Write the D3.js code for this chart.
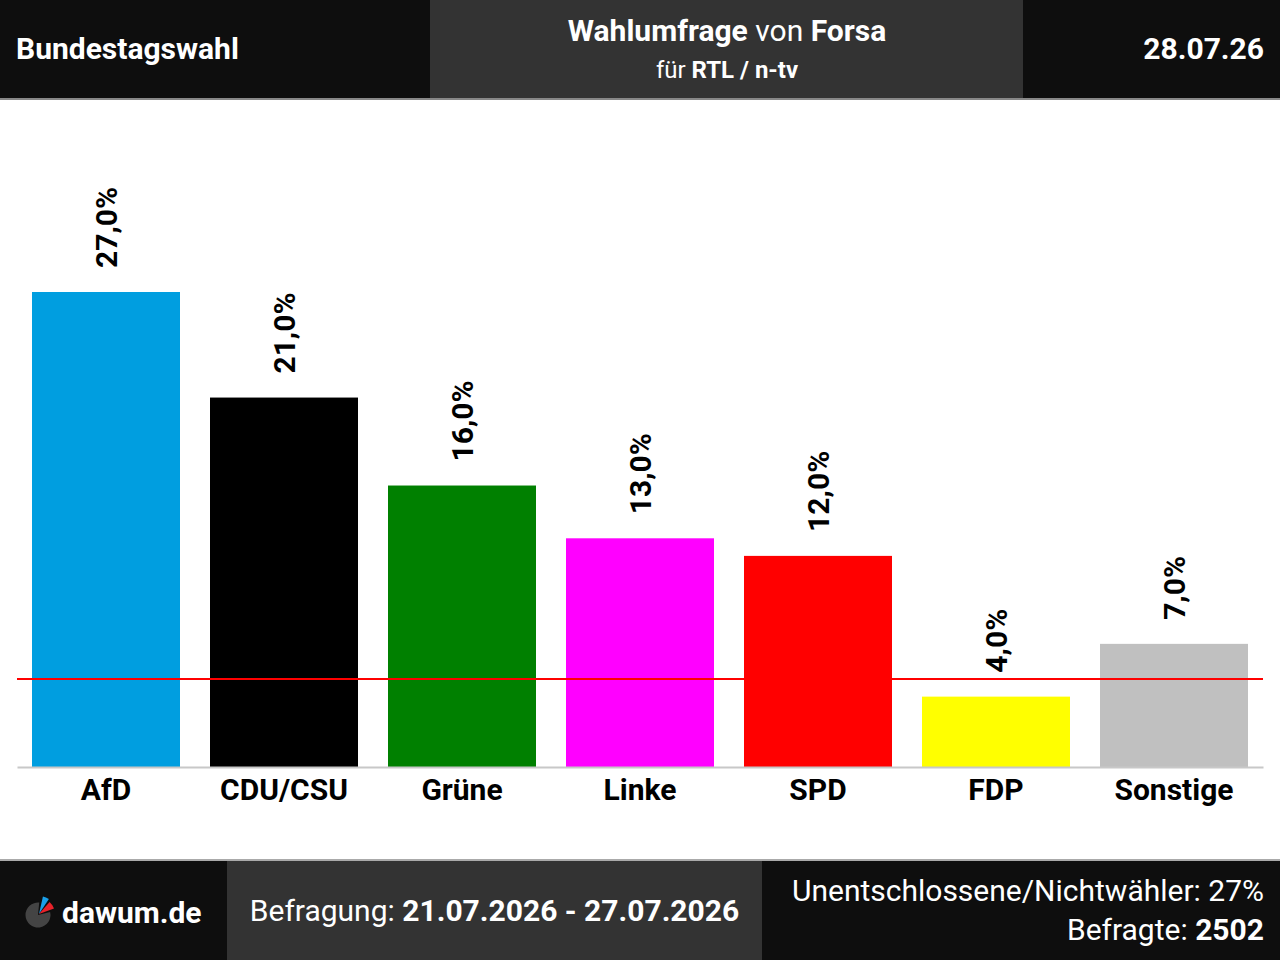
<!DOCTYPE html>
<html><head><meta charset="utf-8">
<script src="https://cdn.jsdelivr.net/npm/d3@7"></script>
<style>body{margin:0;background:#fff;}svg{display:block;font-family:Roboto,"Noto Sans",sans-serif;}</style>
</head><body>
<script>
const parties = ["AfD","CDU/CSU","Grüne","Linke","SPD","FDP","Sonstige"];
const values = [27.0,21.0,16.0,13.0,12.0,4.0,7.0];
const colors = ["#009ee0","#000000","#008000","#ff00ff","#ff0000","#ffff00","#c0c0c0"];
const threshold = 5;
const headerLeft = "Bundestagswahl";
const headerDate = "28.07.26";
const institute = "Forsa";
const client = "RTL / n-tv";
const fieldStart = "21.07.2026", fieldEnd = "27.07.2026";
const undecided = 27;
const respondents = 2502;

const W=1280,H=960;
const svg=d3.select("body").append("svg").attr("width",W).attr("height",H);

// header
svg.append("rect").attr("x",0).attr("y",0).attr("width",W).attr("height",98).attr("fill","#0e0e0e");
svg.append("rect").attr("x",430).attr("y",0).attr("width",593).attr("height",98).attr("fill","#333333");
svg.append("rect").attr("x",0).attr("y",98).attr("width",W).attr("height",2).attr("fill","#888888");
svg.append("text").attr("x",16).attr("y",59).attr("fill","#fff").attr("font-size",30).attr("font-weight","bold").text(headerLeft);
svg.append("text").attr("x",1264).attr("y",59).attr("text-anchor","end").attr("fill","#fff").attr("font-size",30).attr("font-weight","bold").text(headerDate);
const t1=svg.append("text").attr("x",727).attr("y",41).attr("text-anchor","middle").attr("fill","#fff").attr("font-size",30);
t1.append("tspan").attr("font-weight","bold").text("Wahlumfrage");
t1.append("tspan").text(" von ");
t1.append("tspan").attr("font-weight","bold").text(institute);
const t2=svg.append("text").attr("x",727).attr("y",78).attr("text-anchor","middle").attr("fill","#fff").attr("font-size",24);
t2.append("tspan").text("für ");
t2.append("tspan").attr("font-weight","bold").text(client);

// chart
const x=d3.scaleBand().domain(parties).range([17,1263]).paddingInner(30/178).paddingOuter(15/178);
const y=d3.scaleLinear().domain([0,27]).range([767,292]);
const g=svg.append("g");
g.selectAll("rect.bar").data(parties).enter().append("rect").attr("class","bar")
 .attr("x",d=>x(d)).attr("width",x.bandwidth())
 .attr("y",(d,i)=>y(values[i])).attr("height",(d,i)=>y(0)-y(values[i]))
 .attr("fill",(d,i)=>colors[i]);
g.selectAll("text.val").data(parties).enter().append("text").attr("class","val")
 .attr("transform",(d,i)=>`translate(${x(d)+x.bandwidth()/2+11},${y(values[i])-24}) rotate(-90)`)
 .attr("font-size",30).attr("font-weight","bold").attr("fill","#000")
 .text((d,i)=>values[i].toFixed(1).replace(".",",")+"%");
// axis
const axis=g.append("g").attr("transform","translate(0,767)").call(d3.axisBottom(x).tickSize(0).tickPadding(11));
axis.select(".domain").attr("stroke","#c8c8c8").attr("stroke-width",2);
axis.selectAll("text").attr("font-size",30).attr("font-weight","bold").attr("fill","#000").attr("font-family","Roboto,sans-serif").attr("dy","0.72em");
// threshold
g.append("line").attr("x1",17).attr("x2",1263).attr("y1",y(threshold)).attr("y2",y(threshold)).attr("stroke","#ff0000").attr("stroke-width",2);

// footer
svg.append("rect").attr("x",0).attr("y",859).attr("width",W).attr("height",2).attr("fill","#aaaaaa");
svg.append("rect").attr("x",0).attr("y",861).attr("width",W).attr("height",99).attr("fill","#0e0e0e");
svg.append("rect").attr("x",227).attr("y",861).attr("width",535).attr("height",99).attr("fill","#333333");
// logo
const lg=svg.append("g").attr("transform","translate(38,915)");
const arc=d3.arc().innerRadius(0);
lg.append("path").attr("d",arc({outerRadius:12.5,startAngle:Math.PI*0.42,endAngle:Math.PI*2+0.1})).attr("fill","#444");
lg.append("path").attr("transform","translate(1,-1)").attr("d",arc({outerRadius:18,startAngle:0.22,endAngle:0.58})).attr("fill","#1a9fe8");
lg.append("path").attr("transform","translate(1,-1)").attr("d",arc({outerRadius:16,startAngle:0.72,endAngle:1.22})).attr("fill","#e8222a");
svg.append("text").attr("x",62).attr("y",923).attr("fill","#fff").attr("font-size",30).attr("font-weight","bold").text("dawum.de");
const f1=svg.append("text").attr("x",494.5).attr("y",921).attr("text-anchor","middle").attr("fill","#fff").attr("font-size",30);
f1.append("tspan").text("Befragung: ");
f1.append("tspan").attr("font-weight","bold").text(fieldStart+" - "+fieldEnd);
svg.append("text").attr("x",1264).attr("y",901).attr("text-anchor","end").attr("fill","#fff").attr("font-size",30).text("Unentschlossene/Nichtwähler: "+undecided+"%");
const f3=svg.append("text").attr("x",1264).attr("y",940).attr("text-anchor","end").attr("fill","#fff").attr("font-size",30);
f3.append("tspan").text("Befragte: ");
f3.append("tspan").attr("font-weight","bold").text(respondents);
</script>
</body></html>
